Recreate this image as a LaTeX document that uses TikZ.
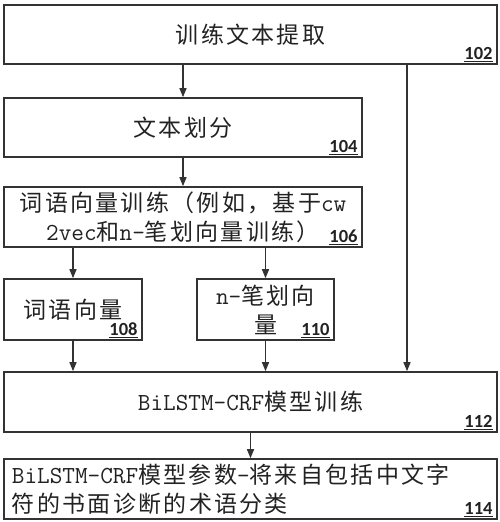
\documentclass[tikz,border=0pt]{standalone}
\usepackage{fontspec}
\setmainfont{Noto Sans CJK SC}[LetterSpace=10]
\newfontfamily\numfont{Carlito}
\usepackage{tikz}
\usetikzlibrary{arrows.meta,positioning}
\definecolor{ink}{HTML}{222222}
\definecolor{edge}{HTML}{333333}
\newcommand{\mono}[1]{{\ttfamily\fontsize{24.5pt}{29pt}\selectfont #1}}
\tikzset{
  box/.style={draw=edge, line width=1.6pt, rectangle, inner sep=0pt, text=ink,
              font=\fontsize{23pt}{29pt}\selectfont, align=center},
  arr/.style={draw=edge, line width=1.4pt, -{Triangle[length=9pt,width=7pt]}},
  num/.style={inner sep=0pt, text=ink, font=\numfont\bfseries\fontsize{18.5pt}{20pt}\selectfont},
}
\begin{document}
\begin{tikzpicture}[x=1pt,y=-1pt]
  \useasboundingbox (0,0) rectangle (500,522);
  \node[box, minimum width=493pt, minimum height=59pt] (b102) at (250.5,34.5) {训练文本提取};
  \node[box, minimum width=358pt, minimum height=59pt] (b104) at (183,127.5) {文本划分};
  \node[box, minimum width=358pt, minimum height=60pt] (b106) at (183,217)
    {词语向量训练（例如，基于\mono{cw}\\\mono{2vec}和\mono{n-}笔划向量训练）};
  \node[box, minimum width=138pt, minimum height=61pt] (b108) at (73,309.5) {词语向量};
  \node[box, minimum width=137pt, minimum height=61pt] (b110) at (265.5,309.5) {\mono{n-}笔划向\\量};
  \node[box, minimum width=493pt, minimum height=60pt] (b112) at (250.5,402) {\mono{BiLSTM-CRF}模型训练};
  \node[box, minimum height=60pt, text width=477pt, inner xsep=8pt, align=left] (b114) at (250.5,489)
    {\mono{BiLSTM-CRF}模型参数\mono{-}将来自包括中文字\\符的书面诊断的术语分类};
  \coordinate (rail) at (407,0);
  % numbers
  \foreach \n in {102,104,...,114}
    \node[num, above left=3pt and 5pt of b\n.south east] (n\n) {\underline{\n}};
  % arrows
  \draw[arr] (b102.south -| b104.north) -- (b104.north);
  \draw[arr] (b104) -- (b106);
  \draw[arr] (b106.south -| b108.north) -- (b108.north);
  \draw[arr] (b106.south -| b110.north) -- (b110.north);
  \draw[arr] (b108) -- (b112.north -| b108);
  \draw[arr] (b110) -- (b112.north -| b110);
  \draw[arr] (b102.south -| rail) -- (b112.north -| rail);
  \draw[arr] (b112) -- (b114);
\end{tikzpicture}
\end{document}
